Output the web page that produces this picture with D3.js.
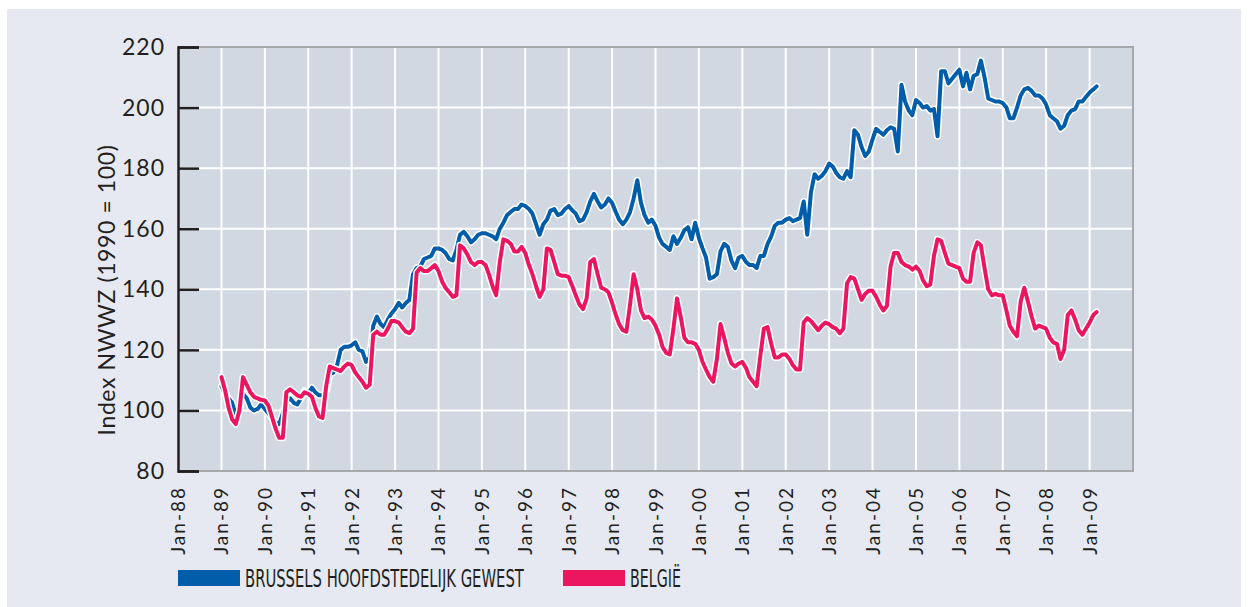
<!DOCTYPE html>
<meta charset="utf-8">
<html>
<head>
<style>
  body { margin: 0; background: #fff; }
  .tick-y { font-family: Lato, "Open Sans", sans-serif; font-size: 23px; fill: #231f20; letter-spacing: 1px; }
  .tick-x { font-family: Lato, "Open Sans", sans-serif; font-size: 19px; fill: #231f20; letter-spacing: 2px; }
  .ytitle { font-family: Lato, "Open Sans", sans-serif; font-size: 23px; fill: #231f20; letter-spacing: 0.6px; }
  .legend { font-family: "Liberation Sans Narrow", "DejaVu Sans Condensed", sans-serif; font-size: 25px; fill: #231f20; }
</style>
</head>
<body>
<svg width="1249" height="607"></svg>
<script src="https://cdnjs.cloudflare.com/ajax/libs/d3/7.8.5/d3.min.js"></script>
<script>

// monthly index, Jan-89 .. Mar-09
var brussels = [
  108, 105.5, 104, 102.5, 98.5, 100, 105.5, 104, 101, 100, 100.5, 102,      // 1989
  100.5, 99, 97.5, 96, 95.5, 99, 103, 104, 102.5, 102, 104, 106.5,          // 1990
  105.5, 107.5, 106, 105, 105, 106, 112, 112.5, 115, 120, 121, 121,         // 1991
  121.5, 122.5, 120, 119.5, 116, 117.5, 128, 131, 128.5, 127.5, 130, 132,   // 1992
  133.5, 135.5, 134, 135.5, 136.5, 145, 147, 147.5, 150, 150.5, 151, 153.5, // 1993
  153.5, 153, 152, 150, 149.5, 153, 158, 159, 157.5, 155.5, 156.5, 158,     // 1994
  158.5, 158.5, 158, 157.5, 156.5, 160, 162, 164.5, 165.5, 166.5, 166.5, 168, // 1995
  167.5, 166.5, 165, 161.5, 158, 161.5, 163, 166, 166.5, 164.5, 165, 166.5, // 1996
  167.5, 166, 165, 162.5, 163, 165.5, 169, 171.5, 169, 167, 168, 170,       // 1997
  168.5, 165.5, 163, 161.5, 163, 165.5, 170, 176, 168.5, 164.5, 162, 163,   // 1998
  161, 157, 155, 154, 153, 157.5, 155, 157, 159.5, 160.5, 156.5, 162,       // 1999
  157, 153.5, 150.5, 143.5, 144, 145, 152.5, 155, 154, 149.5, 147, 150.5,   // 2000
  151, 149, 148, 148, 147, 151, 151, 155, 157.5, 161, 162, 162,             // 2001
  163, 163.5, 162.5, 163, 163.5, 169, 158, 172, 178, 176.5, 177.5, 179,     // 2002
  181.5, 180.5, 178.5, 177, 176.5, 179, 177, 192.5, 191, 187, 184, 185.5,   // 2003
  189.5, 193, 192, 191, 192.5, 193.5, 193, 185.5, 207.5, 202, 199, 197.5,   // 2004
  202.5, 201.5, 200, 200.5, 199, 199.5, 190.5, 212, 212, 208, 209.5, 211,   // 2005
  212.5, 207, 211.5, 206, 210.5, 211, 215.5, 210, 203, 202.5, 202, 202,     // 2006
  201.5, 200, 196.5, 196.5, 200, 204, 206, 206.5, 205.5, 204, 204, 203,     // 2007
  201, 197.5, 196.5, 195.5, 193, 194, 197.5, 199, 199.5, 202, 202, 203.5,   // 2008
  205, 206, 207                                                             // 2009
];

var belgie = [
  111, 106.5, 101, 97, 95.5, 100, 111, 108.5, 106, 104.5, 104, 103.5,       // 1989
  103.3, 101.5, 98, 94, 91, 91, 106, 107, 106, 105, 104.5, 106,             // 1990
  105.5, 104.5, 101, 98, 97.5, 108, 114.5, 114, 113.5, 113, 114.5, 115.5,   // 1991
  115, 112.5, 111, 109.5, 107.5, 108.5, 125, 126, 125, 125, 127, 129.5,     // 1992
  129.5, 129, 127.5, 126, 125.5, 127, 145.5, 147, 146, 146, 147, 148,       // 1993
  146, 142.5, 140.5, 139, 137.5, 138, 154.5, 153.5, 151.5, 149, 148, 149,   // 1994
  149, 148, 145, 141, 138, 149, 156.5, 156, 155, 152.5, 152.5, 154,         // 1995
  152, 148, 145, 141, 137.5, 140, 153.5, 153, 149, 145, 144.5, 144.5,       // 1996
  144, 141, 138, 135, 133.5, 137, 149, 150, 145, 140.5, 140, 139,           // 1997
  135.5, 131.5, 128.5, 126.5, 126, 135, 145, 140, 133, 130.5, 131, 130,     // 1998
  128, 125, 121, 119, 118.5, 127, 137, 131, 124, 122.5, 122.5, 122,         // 1999
  120, 116, 113.5, 111, 109.5, 117, 128.5, 124, 119, 115.5, 114.5, 115.5,   // 2000
  116, 114, 111, 109.5, 108, 118, 127, 127.5, 122, 117.5, 117.5, 118.5,     // 2001
  118.5, 117, 115, 113.5, 113.5, 129, 130.5, 129.5, 128, 126.5, 128, 129,   // 2002
  128.5, 127.5, 127, 125.5, 127, 142, 144, 143.5, 140, 136.5, 138.5, 139.5, // 2003
  139.5, 137.5, 135, 133, 134.5, 147.5, 152, 152, 149, 148, 147.5, 146.5,   // 2004
  147.5, 146, 143, 141, 141.5, 151, 156.5, 156, 152, 148.5, 148, 147.5,     // 2005
  147, 143.5, 142.5, 142.5, 152, 155.5, 154.5, 147, 140, 138, 138.5, 138,   // 2006
  138, 133, 128, 126, 124.5, 136, 140.5, 136, 131, 127, 128, 127.5,         // 2007
  127, 124, 122.5, 122, 117, 120, 131.5, 133, 130, 126.5, 125, 127,         // 2008
  129, 131.5, 132.5                                                         // 2009
];

var yTicks = [80, 100, 120, 140, 160, 180, 200, 220];
var xTickYears = d3.range(1988, 2010); // Jan-88 .. Jan-09
var seriesNames = ["BRUSSELS HOOFDSTEDELIJK GEWEST", "BELGIË"];
var seriesColors = ["#005da9", "#ec1560"];

var svg = d3.select("svg");

// panel background
svg.append("rect").attr("x", 7).attr("y", 9).attr("width", 1234).attr("height", 598).attr("fill", "#e6e9f1");

var margin = {left: 178, top: 47, right: 1133, bottom: 471};

var x = d3.scaleTime()
    .domain([new Date(1988, 0, 1), new Date(2010, 0, 1)])
    .range([margin.left, margin.right]);
var y = d3.scaleLinear().domain([80, 220]).range([margin.bottom, margin.top]);

// plot area
svg.append("rect")
    .attr("x", margin.left).attr("y", margin.top)
    .attr("width", margin.right - margin.left).attr("height", margin.bottom - margin.top)
    .attr("fill", "#d1d8e2");

// grid
svg.append("g").selectAll("line")
    .data(yTicks.filter(d => d > 80 && d < 220))
    .enter().append("line")
    .attr("x1", margin.left).attr("x2", margin.right)
    .attr("y1", d => y(d)).attr("y2", d => y(d))
    .attr("stroke", "#fff").attr("stroke-width", 2);

svg.append("g").selectAll("line")
    .data(xTickYears.slice(1))
    .enter().append("line")
    .attr("x1", d => x(new Date(d, 0, 1))).attr("x2", d => x(new Date(d, 0, 1)))
    .attr("y1", margin.top).attr("y2", margin.bottom)
    .attr("stroke", "#fff").attr("stroke-width", 2);

// frame (top, right, bottom)
svg.append("path")
    .attr("d", "M" + margin.left + "," + margin.top + "H" + margin.right + "V" + margin.bottom + "H" + margin.left)
    .attr("fill", "none").attr("stroke", "#a7a9ac").attr("stroke-width", 2);

// y axis
var yAxis = svg.append("g")
    .attr("transform", "translate(" + margin.left + ",0)")
    .call(d3.axisRight(y).tickValues(yTicks).tickSize(21).tickFormat(""));
yAxis.select(".domain").attr("stroke", "#231f20").attr("stroke-width", 2.5);
yAxis.selectAll(".tick line").attr("stroke", "#231f20").attr("stroke-width", 2.5);

svg.append("g").selectAll("text")
    .data(yTicks)
    .enter().append("text")
    .attr("class", "tick-y")
    .attr("x", 165).attr("y", d => y(d) + 8)
    .attr("text-anchor", "end")
    .text(d => d);

// x labels
svg.append("g").selectAll("text")
    .data(xTickYears)
    .enter().append("text")
    .attr("class", "tick-x")
    .attr("transform", d => "translate(" + (x(new Date(d, 0, 1)) + 7) + ",486) rotate(-90)")
    .attr("text-anchor", "end")
    .text(d => "Jan-" + d3.format("02")(d % 100));

// y title
svg.append("text")
    .attr("class", "ytitle")
    .attr("transform", "translate(115,290) rotate(-90)")
    .attr("text-anchor", "middle")
    .text("Index NWWZ (1990 = 100)");

// lines
var line = d3.line()
    .x((d, i) => x(new Date(1989, i, 1)))
    .y(d => y(d));

[brussels, belgie].forEach(function(s, k) {
    svg.append("path").datum(s)
        .attr("d", line).attr("fill", "none")
        .attr("stroke", "#fff").attr("stroke-width", 7)
        .attr("stroke-linejoin", "round").attr("stroke-linecap", "round");
    svg.append("path").datum(s)
        .attr("d", line).attr("fill", "none")
        .attr("stroke", seriesColors[k]).attr("stroke-width", 4)
        .attr("stroke-linejoin", "round").attr("stroke-linecap", "round");
});

// legend (text squeezed horizontally to the reference width)
var legendX = [178, 563];
var legendW = [279, 51];
seriesNames.forEach(function(name, k) {
    svg.append("rect")
        .attr("x", legendX[k]).attr("y", 570).attr("width", 62).attr("height", 16)
        .attr("fill", seriesColors[k]);
    var t = svg.append("text")
        .attr("class", "legend")
        .text(name);
    var w = t.node().getComputedTextLength();
    t.attr("transform", "translate(" + (legendX[k] + 67) + ",587) scale(" + (legendW[k] / w) + ",1)");
});

</script>
</body>
</html>
